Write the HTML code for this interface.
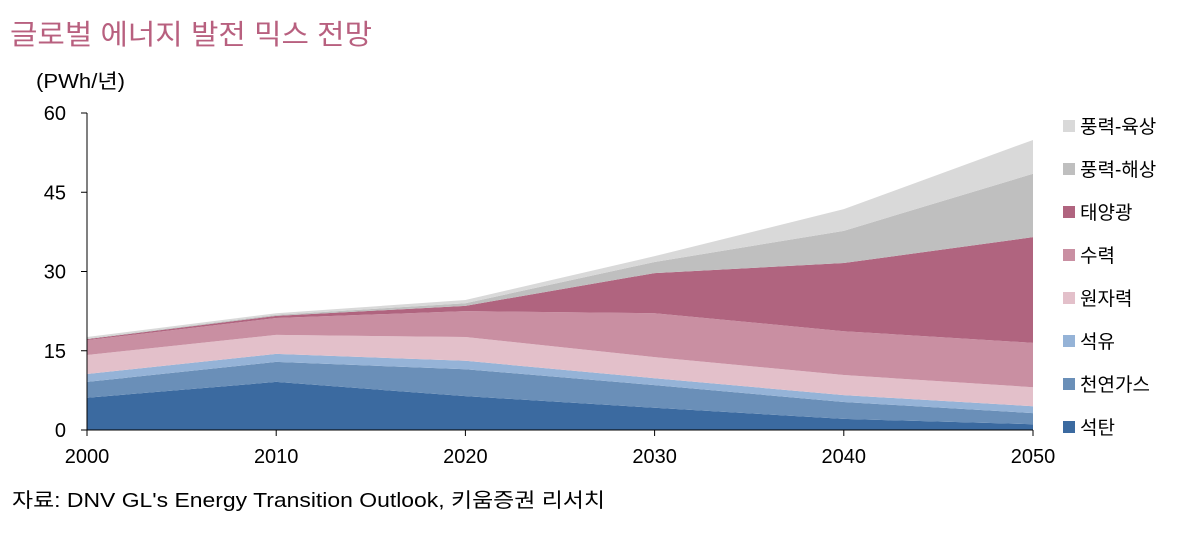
<!DOCTYPE html>
<html><head><meta charset="utf-8"><style>
body{margin:0;background:#fff;width:1186px;height:536px;overflow:hidden;font-family:"Liberation Sans","Noto Sans CJK KR",sans-serif}
</style></head><body>
<svg width="1186" height="536" font-family="Liberation Sans, Noto Sans CJK KR, sans-serif">
<text x="10" y="44" font-size="28" fill="#b8607f" textLength="362" lengthAdjust="spacingAndGlyphs">글로벌 에너지 발전 믹스 전망</text>
<text x="36" y="88" font-size="20" fill="#000" textLength="89" lengthAdjust="spacingAndGlyphs">(PWh/년)</text>
<g id="areas"></g><g id="axes"></g><g id="legend"></g>
<text x="12" y="507" font-size="20" fill="#000" textLength="593" lengthAdjust="spacingAndGlyphs">자료: DNV GL's Energy Transition Outlook, 키움증권 리서치</text>
</svg>
<script>
const years=[2000,2010,2020,2030,2040,2050];
const seriesNames=["석탄","천연가스","석유","원자력","수력","태양광","풍력-해상","풍력-육상"];
const coal=[6.1,9.1,6.4,4.2,2.1,1.1];
const gas=[3.0,3.8,5.1,4.3,3.2,2.1];
const oil=[1.5,1.5,1.6,1.3,1.3,1.3];
const nuclear=[3.6,3.6,4.5,4.0,3.8,3.6];
const hydro=[2.8,3.2,4.9,8.3,8.3,8.4];
const solar=[0.2,0.4,1.0,7.6,12.9,20.0];
const windOff=[0.1,0.2,0.5,2.1,6.1,12.0];
const windOn=[0.3,0.3,0.6,1.1,4.1,6.4];
const yTicks=[0,15,30,45,60];
const colors=["#3b6aa0","#6a8fb8","#95b3d7","#e3c0ca","#c98fa2","#b0647f","#bfbfbf","#d9d9d9"];
const slugs=["coal","natural-gas","oil","nuclear","hydro","solar","wind-offshore","wind-onshore"];
const all=[coal,gas,oil,nuclear,hydro,solar,windOff,windOn];
const NS="http://www.w3.org/2000/svg";
const X=v=>87+(v-2000)/50*946, Y=v=>430-v*317/60;
const ga=document.getElementById('areas');
let base=years.map(()=>0);
all.forEach((s,i)=>{
  const top=base.map((b,j)=>b+s[j]);
  let d="M"+years.map((y,j)=>X(y)+","+Y(top[j])).join("L");
  for(let j=years.length-1;j>=0;j--) d+="L"+X(years[j])+","+Y(base[j]);
  const p=document.createElementNS(NS,'path');
  p.setAttribute('d',d+'Z');p.setAttribute('fill',colors[i]);
  
  
  ga.appendChild(p);base=top;
});
const ax=document.getElementById('axes');
function mk(tag,attrs,txt){const e=document.createElementNS(NS,tag);for(const k in attrs)e.setAttribute(k,attrs[k]);if(txt!=null)e.textContent=txt;ax.appendChild(e);return e;}
const yl=mk('line',{x1:87,y1:113,x2:87,y2:430,stroke:'#000','stroke-width':1});


const xl=mk('line',{x1:87,y1:430,x2:1033,y2:430,stroke:'#000','stroke-width':1});


yTicks.forEach(t=>{
  mk('line',{x1:81,y1:Y(t),x2:87,y2:Y(t),stroke:'#000'});
  const e=mk('text',{x:66,y:Y(t)+7,'font-size':20,'text-anchor':'end'},t);
  
  
});
years.forEach(y=>{
  mk('line',{x1:X(y),y1:430,x2:X(y),y2:436,stroke:'#000'});
  const e=mk('text',{x:X(y),y:463,'font-size':20,'text-anchor':'middle'},y);
  
  
});
const lg=document.getElementById('legend');
for(let i=7;i>=0;i--){
  const cy=126+(7-i)*43;
  const g=document.createElementNS(NS,'g');
  
  
  const r=document.createElementNS(NS,'rect');
  r.setAttribute('x',1063);r.setAttribute('y',cy-6);r.setAttribute('width',12);r.setAttribute('height',12);r.setAttribute('fill',colors[i]);
  const t=document.createElementNS(NS,'text');
  t.setAttribute('x',1080);t.setAttribute('y',cy+7);t.setAttribute('font-size',19);t.textContent=seriesNames[i];
  g.appendChild(r);g.appendChild(t);lg.appendChild(g);
}
</script>
</body></html>
